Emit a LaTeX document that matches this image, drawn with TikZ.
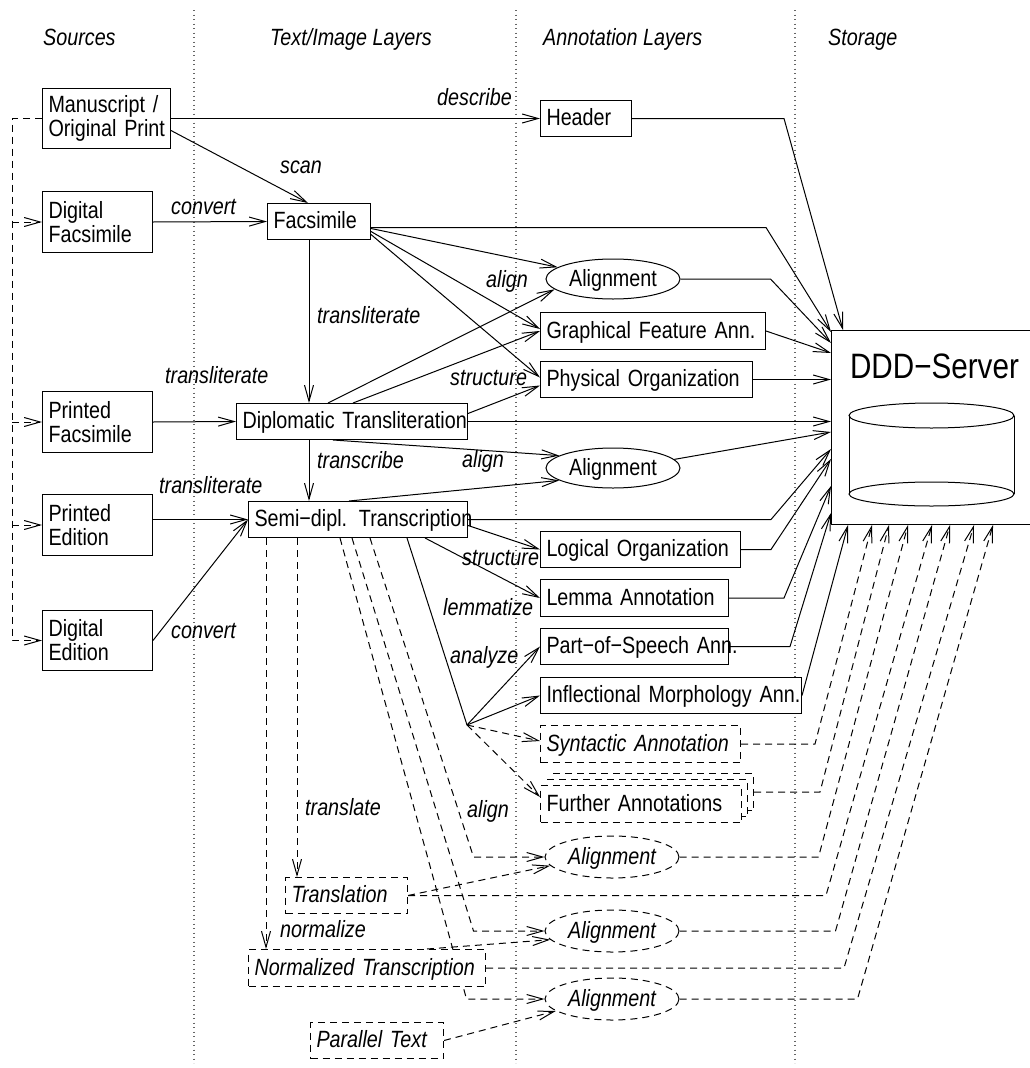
\documentclass[tikz,border=0pt]{standalone}
\usepackage{fontspec}
\setmainfont{Liberation Sans}[FakeStretch=0.84]
\usetikzlibrary{arrows.meta,shapes.geometric,calc}
\pgfdeclarelayer{bg}
\pgfdeclarelayer{mid}
\pgfsetlayers{bg,mid,main}
\newcommand\dfont{\fontsize{23.5}{24}\selectfont}
\tikzset{
  dashy/.style={dash pattern=on 7pt off 5pt},
  lay/.style={draw, fill=white, line width=1pt, rectangle, anchor=north west,
    inner xsep=6pt, inner ysep=0pt, align=left, font=\dfont},
  one/.style={text height=14pt, text depth=0pt},
  dlay/.style={lay, dashy, font=\dfont\itshape},
  ell/.style={draw, fill=white, ellipse, line width=1pt, minimum width=134pt,
    minimum height=40pt, inner sep=0pt, font=\dfont, text height=14pt, text depth=0pt},
  dell/.style={ell, dashy, minimum height=42pt, font=\dfont\itshape},
  lab/.style={anchor=base west, inner sep=0pt, font=\dfont\itshape},
  conn/.style={line width=1pt},
  arr/.style={conn, -{Straight Barb[length=16pt,width=9pt]}},
  dconn/.style={conn, dashy},
  darr/.style={arr, dashy},
  sep/.style={line width=1.2pt, black!60, dash pattern=on 1.2pt off 3.3pt},
}
\begin{document}
\begin{tikzpicture}[x=1pt,y=-1pt]
\useasboundingbox (0,0) rectangle (1030,1068);

% column separators
\begin{pgfonlayer}{bg}
  \draw[sep] (194,10) -- (194,1063);
  \draw[sep] (516,10) -- (516,1063);
  \draw[sep] (795,10) -- (795,1063);
\end{pgfonlayer}

% column headings
\node[lab] (hSrc) at (43,45) {Sources};
\node[lab] (hTxt) at (270,45) {Text/Image Layers};
\node[lab] (hAnn) at (543,45) {Annotation Layers};
\node[lab] (hSto) at (828,45) {Storage};

% sources
\node[lay, text width=116pt, minimum height=60pt] (ms) at (42,88) {\mbox{Manuscript /}\\\mbox{Original Print}};
\node[lay, text width=98pt, minimum height=61pt] (dfac) at (42,191) {\mbox{Digital}\\\mbox{Facsimile}};
\node[lay, text width=98pt, minimum height=61pt] (pfac) at (42,391) {\mbox{Printed}\\\mbox{Facsimile}};
\node[lay, text width=98pt, minimum height=61pt] (ped) at (42,494) {\mbox{Printed}\\\mbox{Edition}};
\node[lay, text width=98pt, minimum height=60pt] (ded) at (42,610) {\mbox{Digital}\\\mbox{Edition}};

% text / image layers
\node[lay, one, text width=91pt, minimum height=36pt] (fac) at (267,203) {\mbox{Facsimile}};
\node[lay, one, text width=219pt, minimum height=36pt] (dip) at (236,403) {\mbox{Diplomatic Transliteration}};
\node[lay, one, text width=207pt, minimum height=36pt] (semi) at (248,501) {\mbox{Semi−dipl. Transcription}};
\node[dlay, one, text width=110pt, minimum height=36pt] (trl) at (285,877) {\mbox{Translation}};
\node[dlay, one, text width=225pt, minimum height=37pt] (norm) at (248,949) {\mbox{Normalized Transcription}};
\node[dlay, one, text width=121pt, minimum height=36pt] (par) at (310,1022) {\mbox{Parallel Text}};

% annotation layers
\node[lay, one, text width=79pt, minimum height=36pt] (hdr) at (540,100) {\mbox{Header}};
\node[ell] (a1) at (613,279) {Alignment};
\node[lay, one, text width=213pt, minimum height=37pt] (gfa) at (540,312) {\mbox{Graphical Feature Ann.}};
\node[lay, one, text width=200pt, minimum height=36pt] (phy) at (540,361) {\mbox{Physical Organization}};
\node[ell] (a2) at (613,468) {Alignment};
\node[lay, one, text width=188pt, minimum height=36pt] (log) at (540,531) {\mbox{Logical Organization}};
\node[lay, one, text width=176pt, minimum height=37pt] (lem) at (540,579) {\mbox{Lemma Annotation}};
\node[lay, one, text width=176pt, minimum height=36pt] (pos) at (540,628) {\mbox{Part−of−Speech Ann.}};
\node[lay, one, text width=249pt, minimum height=36pt] (inf) at (540,677) {\mbox{Inflectional Morphology Ann.}};
\node[dlay, one, text width=188pt, minimum height=37pt] (syn) at (540,725) {\mbox{Syntactic Annotation}};
\node[lay, dashy, one, text width=189pt, minimum height=37pt] (fb2) at (552,773) {};
\node[lay, dashy, one, text width=189pt, minimum height=37pt] (fb1) at (546,779) {};
\node[lay, dashy, one, text width=189pt, minimum height=37pt] (fur) at (540,785) {\mbox{Further Annotations}};
\node[dell] (a3) at (612,857) {Alignment};
\node[dell] (a4) at (612,931) {Alignment};
\node[dell] (a5) at (612,999) {Alignment};

% storage
\node[draw, line width=1pt, rectangle, anchor=north west, minimum width=200pt,
  minimum height=194pt, inner sep=0pt] (srv) at (831,330) {};
\node[anchor=base, inner sep=0pt, font=\fontsize{35.3}{36}\selectfont] (srvname)
  at ($(srv.north west)+(103.5,48)$) {DDD−Server};
\draw[line width=1pt] ($(srv.north west)+(100.5,85.5)$) ellipse [x radius=82.5pt, y radius=12.5pt];
\draw[line width=1pt] ($(srv.north west)+(100.5,164)$) ellipse [x radius=82.5pt, y radius=12pt];
\draw[line width=1pt] ($(srv.north west)+(18,85.5)$) -- ++(0,78.5);
\draw[line width=1pt] ($(srv.north west)+(183,85.5)$) -- ++(0,78.5);

% edge labels
\node[lab] (lDescribe) at (437,105) {describe};
\node[lab] (lScan) at (280,173) {scan};
\node[lab] (lConv1) at (171,214) {convert};
\node[lab] (lTrl1) at (317,323) {transliterate};
\node[lab] (lAlign1) at (486,287) {align};
\node[lab] (lStruct1) at (450,385) {structure};
\node[lab] (lTrl2) at (165,383) {transliterate};
\node[lab] (lTranscr) at (317,468) {transcribe};
\node[lab] (lAlign2) at (462,467) {align};
\node[lab] (lTrl3) at (159,493) {transliterate};
\node[lab] (lConv2) at (171,638) {convert};
\node[lab] (lStruct2) at (462,565) {structure};
\node[lab] (lLemma) at (443,615) {lemmatize};
\node[lab] (lAnalyze) at (450,663) {analyze};
\node[lab] (lTranslate) at (305,815) {translate};
\node[lab] (lAlign3) at (467,817) {align};
\node[lab] (lNorm) at (280,937) {normalize};

\coordinate (rail) at (12,0);
\coordinate (br) at (467,725);

\begin{pgfonlayer}{mid}
  % origin of the sources
  \draw[darr] (ms.west) -| (rail |- ded.west) -- (ded.west);
  \draw[darr] (rail |- dfac.west) -- (dfac.west);
  \draw[darr] (rail |- pfac.west) -- (pfac.west);
  \draw[darr] (rail |- ped.west) -- (ped.west);

  % sources to text/image layers
  \draw[arr] (ms.east) -- (hdr.west);
  \draw[arr] ($(ms.east)+(0,12)$) -- ($(fac.north west)+(41,0)$);
  \draw[arr] (dfac.east) -- (fac.west);
  \draw[arr] (pfac.east) -- (dip.west);
  \draw[arr] (semi.west -| ped.east) -- (semi.west);
  \draw[arr] (ded.east) -- (semi.west);
  \draw[arr] ($(fac.south west)+(42,0)$) -- ($(dip.north west)+(73,0)$);
  \draw[arr] ($(dip.south west)+(73,0)$) -- ($(semi.north west)+(61,0)$);

  % facsimile and transliteration to annotations
  \draw[arr] ($(fac.east)+(0,7)$) -- (a1.168);
  \draw[arr] ($(fac.east)+(0,10)$) -- ($(gfa.west)+(0,-2)$);
  \draw[arr] ($(fac.east)+(0,13)$) -- ($(phy.west)+(0,-2)$);
  \draw[arr] ($(dip.north west)+(92,0)$) -- (a1.190);
  \draw[arr] ($(dip.north west)+(117,0)$) -- ($(gfa.west)+(0,0)$);
  \draw[arr] ($(dip.east)+(0,-8)$) -- ($(phy.west)+(0,6)$);
  \draw[arr] ($(dip.south west)+(97,0)$) -- (a2.167);
  \draw[arr] ($(semi.north west)+(101,0)$) -- (a2.193);

  % transcription to annotations
  \draw[arr] ($(semi.east)+(0,6)$) -- (log.west);
  \draw[arr] ($(semi.south west)+(177,0)$) -- (lem.west);
  \draw[conn] ($(semi.south west)+(159,0)$) -- (br);
  \draw[arr] (br) -- (pos.west);
  \draw[arr] (br) -- (inf.west);
  \draw[darr] (br) -- ($(syn.west)+(0,-3)$);
  \draw[darr] (br) -- ($(fur.north west)+(0,12)$);

  % derived texts and their alignments
  \draw[darr] ($(semi.south west)+(49,0)$) -- ($(trl.north west)+(12,0)$);
  \draw[darr] ($(semi.south west)+(18,0)$) -- ($(norm.north west)+(18,0)$);
  \draw[darr] ($(semi.south west)+(122,0)$) -- ($(a3.west)+(-71,0)$) -- (a3.west);
  \draw[darr] ($(semi.south west)+(104,0)$) -- ($(a4.west)+(-71,0)$) -- (a4.west);
  \draw[darr] ($(semi.south west)+(92,0)$) -- ($(a5.west)+(-78,0)$) -- (a5.west);
  \draw[darr] (trl.east) -- (a3.188);
  \draw[darr] ($(norm.north west)+(179,0)$) -- (a4.188);
  \draw[darr] (par.east) -- (a5.192);

  % everything into the server
  \draw[arr] (hdr.east) -- ++(152,0) -- ($(srv.north west)+(12,0)$);
  \draw[arr] ($(fac.east)+(0,6)$) -- ++(395,0) -- ($(srv.north west)+(0,2)$);
  \draw[arr] (a1.east) -- ++(90,0) -- ($(srv.north west)+(0,13)$);
  \draw[arr] (gfa.east) -- ($(srv.north west)+(0,23)$);
  \draw[arr] (phy.east) -- (phy.east -| srv.west);
  \draw[arr] (dip.east) -- (dip.east -| srv.west);
  \draw[arr] (a2.8) -- ($(srv.north west)+(0,102)$);
  \draw[arr] (semi.east) -- ++(303,0) -- ($(srv.north west)+(0,119)$);
  \draw[arr] (log.east) -- ++(30,0) -- ($(srv.north west)+(0,129)$);
  \draw[arr] (lem.east) -- ++(55,0) -- ($(srv.north west)+(0,156)$);
  \draw[arr] (pos.east) -- ++(61,0) -- ($(srv.north west)+(0,183)$);
  \draw[arr] (inf.east) -- ($(srv.south west)+(17,0)$);
  \draw[darr] (syn.east) -- ++(74,0) -- ($(srv.south west)+(41,0)$);
  \draw[darr] (fb2.east) -- ++(66,0) -- ($(srv.south west)+(58,0)$);
  \draw[darr] (a3.east) -- ++(139,0) -- ($(srv.south west)+(77,0)$);
  \draw[darr] (trl.east) -- ++(418,0) -- ($(srv.south west)+(101,0)$);
  \draw[darr] (a4.east) -- ++(156,0) -- ($(srv.south west)+(119,0)$);
  \draw[darr] (norm.east) -- ++(358,0) -- ($(srv.south west)+(143,0)$);
  \draw[darr] (a5.east) -- ++(178,0) -- ($(srv.south west)+(162,0)$);
\end{pgfonlayer}
\end{tikzpicture}
\end{document}
